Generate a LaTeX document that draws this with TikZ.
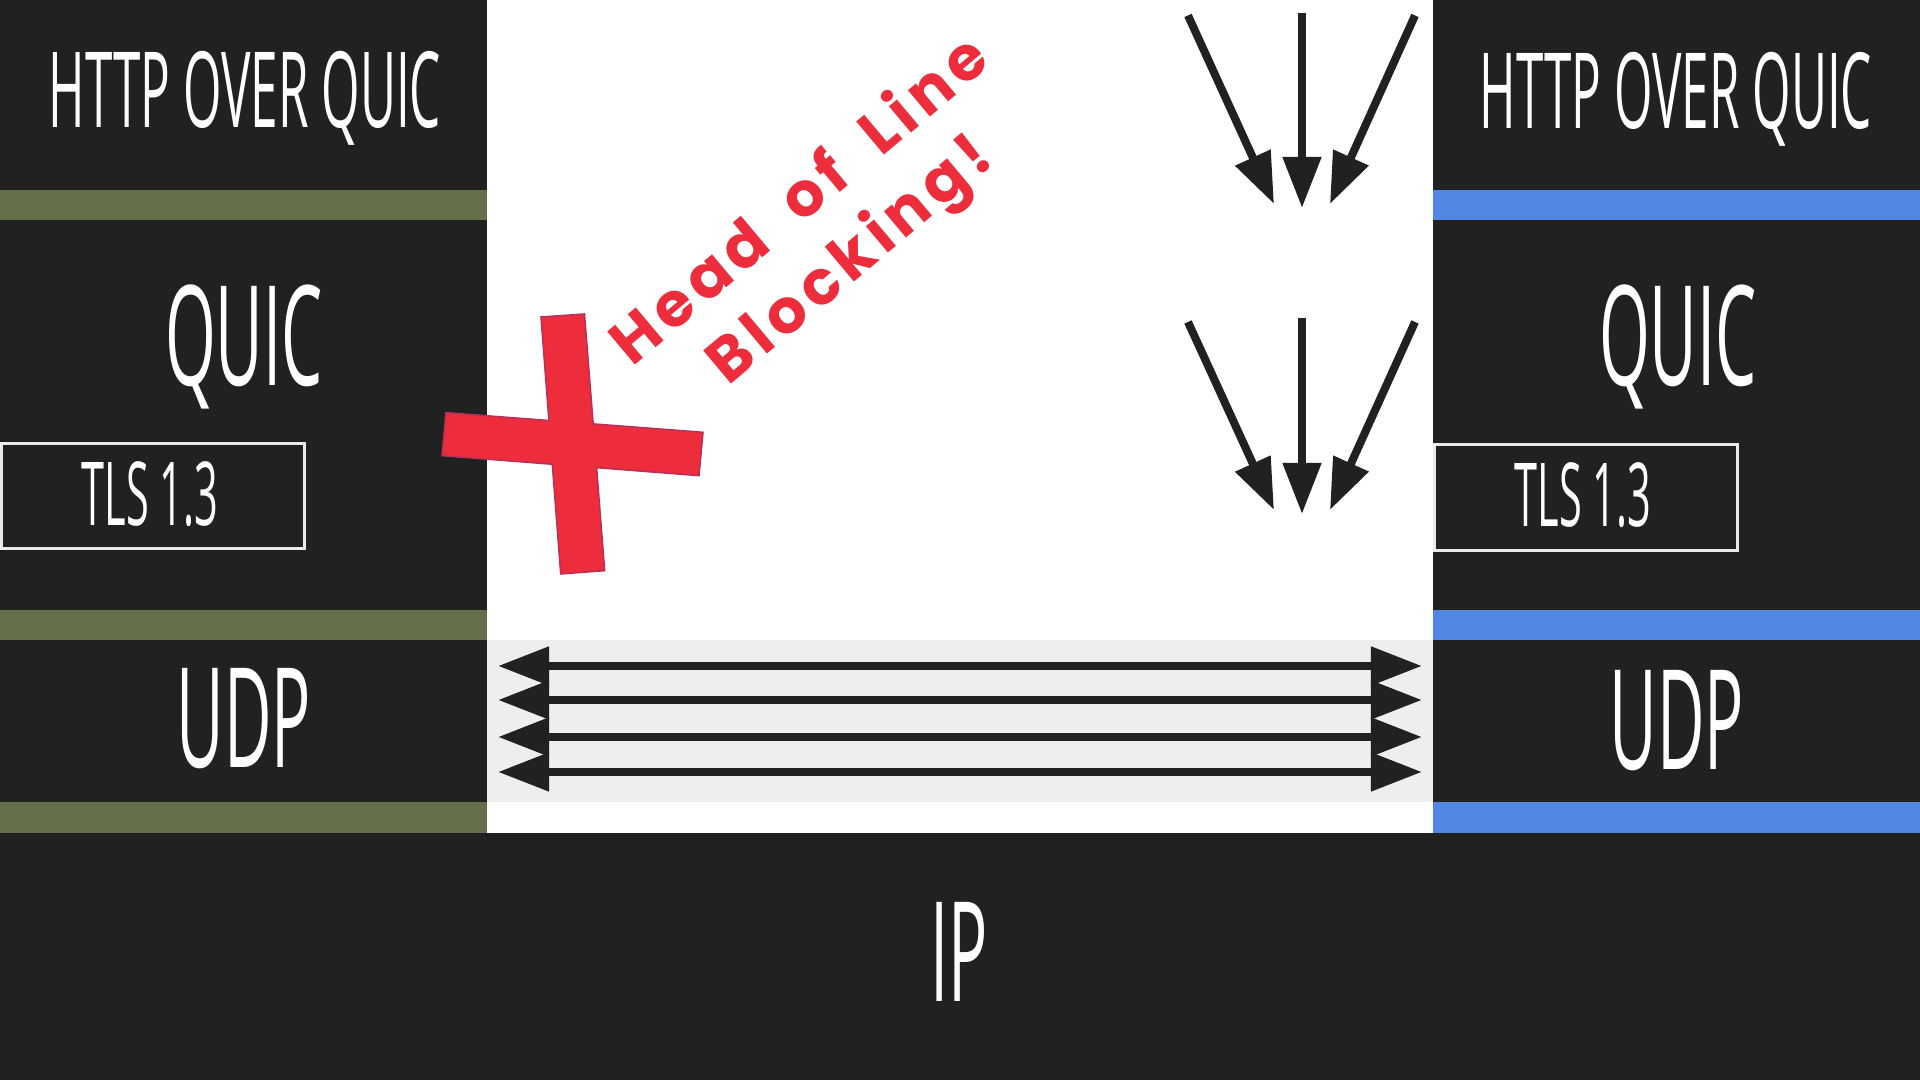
\documentclass[tikz,border=0pt]{standalone}
\usepackage{fontspec}
\usetikzlibrary{arrows.meta}
\newfontfamily\handfont{Open Sans}[FakeStretch=0.47]
\newfontfamily\holfont{Poppins}[LetterSpace=10,WordSpace=1.9]
\definecolor{dark}{HTML}{212121}
\definecolor{olive}{HTML}{64704A}
\definecolor{sky}{HTML}{5286E2}
\definecolor{pale}{HTML}{EEEEEE}
\definecolor{alarm}{HTML}{EE2D3C}
\definecolor{alarmedge}{HTML}{B8305A}
\begin{document}
\begin{tikzpicture}[x=0.01cm,y=0.01cm,
  lbl/.style={text=white, inner sep=0pt, anchor=base},
  toplbl/.style={lbl, font=\handfont\fontsize{29.9}{30}\selectfont},
  biglbl/.style={lbl, font=\handfont\fontsize{39.5}{40}\selectfont},
  tlslbl/.style={lbl, font=\handfont\fontsize{25.1}{26}\selectfont},
  tlsbox/.style={draw=white!92!black, line width=0.03cm},
  arr/.style={draw=dark, line width=0.08cm, -{Triangle[length=0.51cm,width=0.37cm]}},
  darr/.style={draw=dark, line width=0.08cm, {Triangle[length=0.51cm,width=0.37cm]}-{Triangle[length=0.51cm,width=0.37cm]}},
]
\useasboundingbox (0,0) rectangle (1920,1080);
\fill[white] (0,0) rectangle (1920,1080);
% columns
\fill[dark] (0,247) rectangle (487,1080);
\fill[dark] (1433,247) rectangle (1920,1080);
\fill[dark] (0,0) rectangle (1920,247);
\fill[pale] (487,278) rectangle (1433,440);
% bands
\fill[olive] (0,860) rectangle (487,890);
\fill[olive] (0,440) rectangle (487,470);
\fill[olive] (0,247) rectangle (487,278);
\fill[sky] (1433,860) rectangle (1920,890);
\fill[sky] (1433,440) rectangle (1920,470);
\fill[sky] (1433,247) rectangle (1920,278);
% TLS boxes
\draw[tlsbox] (1.5,531.5) rectangle (304.5,636.5);
\draw[tlsbox] (1434.5,529.5) rectangle (1737.5,635.5);
% labels
\node[toplbl] (httpL) at (245,952) {HTTP OVER QUIC};
\node[toplbl] (httpR) at (1676,951) {HTTP OVER QUIC};
\node[biglbl] (quicL) at (244,694) {QUIC};
\node[biglbl] (quicR) at (1678,694) {QUIC};
\node[tlslbl] (tlsL) at (150,554) {TLS 1.3};
\node[tlslbl] (tlsR) at (1583,553) {TLS 1.3};
\node[biglbl] (udpL) at (244,312) {UDP};
\node[biglbl] (udpR) at (1677,310) {UDP};
\node[biglbl] (ip) at (959,78) {IP};
% red cross
\filldraw[fill=alarm, draw=alarmedge, line width=0.015cm]
  (541,763) -- (584.5,766) -- (593.2,656.1) -- (703,647.7) -- (699,604.3)
  -- (596.6,612.3) -- (604.7,509.3) -- (560.7,506) -- (552.3,615.7)
  -- (442,624.3) -- (446,667.3) -- (548.9,659.5) -- cycle;
\node[text=alarm, rotate=40, align=center, inner sep=0pt,
  font=\holfont\bfseries\fontsize{17.5}{22}\selectfont] (hol) at (827,847)
  {Head of Line\\Blocking!};
% downward arrows
\coordinate (a1s) at (1188,1064.5); \coordinate (a1e) at (1274,876);
\coordinate (b1s) at (1302,1067.3); \coordinate (b1e) at (1302,872);
\coordinate (c1s) at (1415,1064.5); \coordinate (c1e) at (1330,876);
\coordinate (a2s) at (1188,758); \coordinate (a2e) at (1274,570);
\coordinate (b2s) at (1302,761.5); \coordinate (b2e) at (1302,566);
\coordinate (c2s) at (1415,758); \coordinate (c2e) at (1330,570);
\draw[arr] (a1s) -- (a1e);
\draw[arr] (b1s) -- (b1e);
\draw[arr] (c1s) -- (c1e);
\draw[arr] (a2s) -- (a2e);
\draw[arr] (b2s) -- (b2e);
\draw[arr] (c2s) -- (c2e);
% double arrows
\foreach \i/\yy in {1/414,2/380,3/343,4/308}{
  \coordinate (dl\i) at (498,\yy);
  \coordinate (dr\i) at (1422,\yy);
  \draw[darr] (dl\i) -- (dr\i);
}
\end{tikzpicture}
\end{document}
